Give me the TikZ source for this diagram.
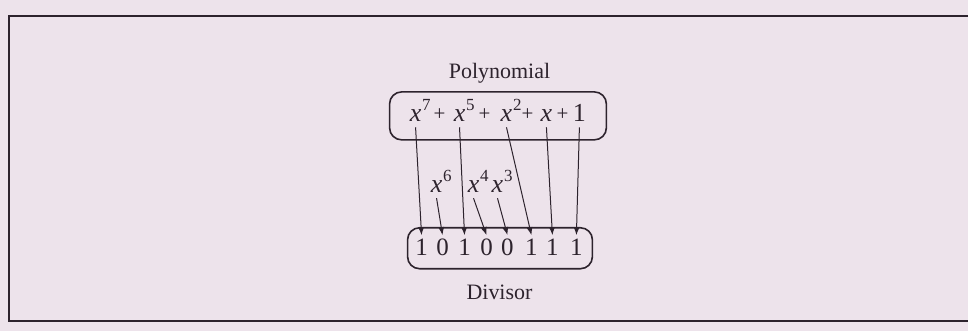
\documentclass[tikz,border=0pt]{standalone}
\usepackage{fontspec}
\setmainfont{Liberation Serif}
\usetikzlibrary{arrows.meta,positioning}
\definecolor{paper}{RGB}{237,227,235}
\definecolor{ink}{RGB}{45,35,45}
\newcommand{\term}[2]{\textit{#1}\rlap{\kern0.4pt\raisebox{0.45em}{\fontsize{8.5}{10}\selectfont #2}}}

\begin{document}
\begin{tikzpicture}[x=0.5pt, y=-0.5pt, >={Latex[length=4pt,width=3pt]},
    every node/.style={text=ink},
    term/.style={anchor=base, inner xsep=0pt, inner ysep=2.5pt, font=\fontsize{13}{15}\selectfont},
    plus/.style={anchor=base, inner sep=0pt, font=\fontsize{10.5}{12}\selectfont},
    bit/.style={anchor=base, inner xsep=0pt, inner ysep=1.8pt, font=\fontsize{12.5}{15}\selectfont},
    caption/.style={anchor=base, inner sep=0pt, font=\fontsize{11}{13}\selectfont},
    roundbox/.style={draw=ink, line width=0.8pt, rounded corners=6pt},
    feed/.style={draw=ink, line width=0.5pt, ->}]
  \fill[paper] (0,0) rectangle (969,331);
  \draw[ink, line width=1pt] (969,16) -- (9,16) -- (9,321) -- (969,321);

  % polynomial on top
  \node[roundbox, minimum width=108.5pt, minimum height=24pt] (poly) at (498.5,116) {};
  \node[caption] (polylab) at (500,79) {Polynomial};
  \node[term] (t7) at (416,122) {\term{x}{7}};
  \node[plus] (p1) at (440,121) {+};
  \node[term] (t5) at (460,122) {\term{x}{5}};
  \node[plus] (p2) at (485,121) {+};
  \node[term] (t2) at (507,122) {\term{x}{2}};
  \node[plus] (p3) at (528,121) {+};
  \node[term] (t1) at (547,122) {\textit{x}};
  \node[plus] (p4) at (563,121) {+};
  \node[term] (t0) at (580,122) {1};

  % missing powers
  \node[term] (s6) at (437,193) {\term{x}{6}};
  \node[term] (s4) at (474,193) {\term{x}{4}};
  \node[term] (s3) at (498,193) {\term{x}{3}};

  % divisor bits
  \node[roundbox, minimum width=92.5pt, minimum height=20.5pt] (div) at (500.5,248.5) {};
  \node[bit] (d1) at (422,256) {1};
  \node[bit] (d2) at (443,256) {0};
  \node[bit] (d3) at (465,256) {1};
  \node[bit] (d4) at (487,256) {0};
  \node[bit] (d5) at (508,256) {0};
  \node[bit] (d6) at (532,256) {1};
  \node[bit] (d7) at (553,256) {1};
  \node[bit] (d8) at (577,256) {1};
  \node[caption] (divlab) at (500,300) {Divisor};

  \draw[feed] (t7.south) -- (d1.north);
  \draw[feed] (t5.south) -- (d3.north);
  \draw[feed] (t2.south) -- (d6.north);
  \draw[feed] (t1.south) -- (d7.north);
  \draw[feed] (t0.south) -- (d8.north);
  \draw[feed] (s6.south) -- (d2.north);
  \draw[feed] (s4.south) -- (d4.north);
  \draw[feed] (s3.south) -- (d5.north);
\end{tikzpicture}
\end{document}
